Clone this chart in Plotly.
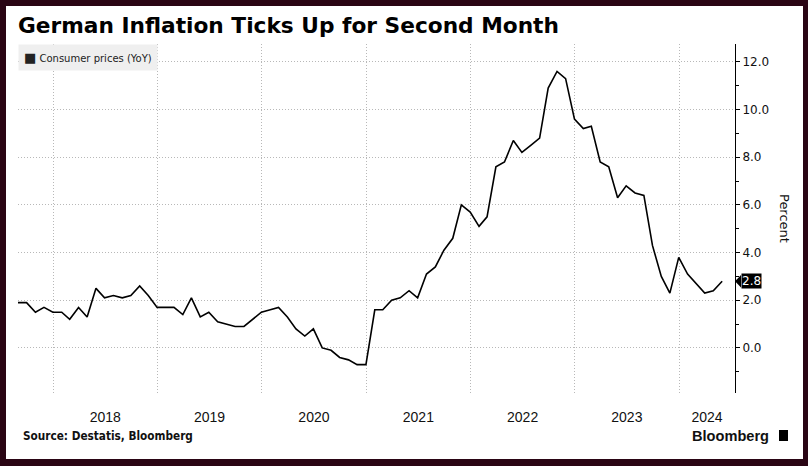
import pandas as pd
import plotly.graph_objects as go

# ---- data (Germany consumer prices, YoY %, monthly Aug 2017 - May 2024) ----
start_month = "2017-08-31"
values = [
    1.9, 1.9, 1.5, 1.7, 1.5,                                   # 2017 Aug-Dec
    1.5, 1.2, 1.7, 1.3, 2.5, 2.1, 2.2, 2.1, 2.2, 2.6, 2.2, 1.7,  # 2018
    1.7, 1.7, 1.4, 2.1, 1.3, 1.5, 1.1, 1.0, 0.9, 0.9, 1.2, 1.5,  # 2019
    1.6, 1.7, 1.3, 0.8, 0.5, 0.8, 0.0, -0.1, -0.4, -0.5, -0.7, -0.7,  # 2020
    1.6, 1.6, 2.0, 2.1, 2.4, 2.1, 3.1, 3.4, 4.1, 4.6, 6.0, 5.7,  # 2021
    5.1, 5.5, 7.6, 7.8, 8.7, 8.2, 8.5, 8.8, 10.9, 11.6, 11.3, 9.6,  # 2022
    9.2, 9.3, 7.8, 7.6, 6.3, 6.8, 6.5, 6.4, 4.3, 3.0, 2.3, 3.8,  # 2023
    3.1, 2.7, 2.3, 2.4, 2.8,                                   # 2024 Jan-May
]
years = [2018, 2019, 2020, 2021, 2022, 2023, 2024]
y_ticks = [0, 2, 4, 6, 8, 10, 12]
series_name = "Consumer prices (YoY)"
title_text = "German Inflation Ticks Up for Second Month"
source_text = "Source: Destatis, Bloomberg"
axis_title = "Percent"

try:
    dates = pd.date_range(start_month, periods=len(values), freq="ME")
except Exception:
    dates = pd.date_range(start_month, periods=len(values), freq="M")
x_dates = [d.strftime("%Y-%m-%d") for d in dates]

x_start = pd.Timestamp(start_month)
x_end = pd.Timestamp("2024-07-15")
y_range = [-1.89, 12.75]

year_starts = [pd.Timestamp(f"{y}-01-01") for y in years]
label_pos = []
for y in years:
    a = pd.Timestamp(f"{y}-01-01")
    b = min(pd.Timestamp(f"{y + 1}-01-01"), x_end)
    label_pos.append((a + (b - a) / 2).strftime("%Y-%m-%d %H:%M"))

BORDER = "#2a0514"
GRID = "#b8b8b8"
DOTS = "1px,2px"

fig = go.Figure()
fig.add_trace(go.Scatter(
    x=x_dates, y=values, mode="lines", name=series_name,
    line=dict(color="#000000", width=1.6), showlegend=False,
))

W, H = 808, 466
ml, mr, mt, mb = 18, 73, 44, 73
pw, ph = W - ml - mr, H - mt - mb


def px_x(px):
    return (px - ml) / pw


def px_y(py):
    return (H - mb - py) / ph


shapes = [
    # white panel inside the dark frame
    dict(type="rect", xref="paper", yref="paper",
         x0=px_x(6), x1=px_x(803), y0=px_y(459), y1=px_y(6),
         fillcolor="white", line=dict(width=0), layer="below"),
    # notch of the last-value tag
    dict(type="path", xref="paper", yref="y",
         path=f"M 1 {values[-1]} L {1 + 6 / pw} {values[-1] + 0.26} "
              f"L {1 + 6 / pw} {values[-1] - 0.26} Z",
         fillcolor="black", line=dict(width=0)),
    # Bloomberg glyph
    dict(type="rect", xref="paper", yref="paper",
         x0=px_x(779), x1=px_x(788), y0=px_y(441), y1=px_y(430),
         fillcolor="black", line=dict(width=0)),
]

annotations = [
    dict(text="<span style='font-size:13px'>■</span> " + series_name,
         xref="paper", yref="paper", x=0, y=1, xanchor="left", yanchor="top",
         showarrow=False, bgcolor="#efefef", borderpad=5,
         font=dict(family="DejaVu Sans", size=10, color="#222222"), align="left"),
    dict(text=axis_title, xref="paper", yref="paper", x=px_x(785), y=px_y(218),
         textangle=90, showarrow=False, xanchor="center", yanchor="middle",
         font=dict(family="DejaVu Sans", size=13, color="#111111")),
    dict(text=f"{values[-1]:.1f}", xref="paper", yref="y", x=1 + 6 / pw, y=values[-1],
         xanchor="left", yanchor="middle", showarrow=False, bgcolor="black",
         borderpad=0, font=dict(family="DejaVu Sans", size=12, color="white")),
    dict(text=f"<b>{source_text}</b>", xref="paper", yref="paper",
         x=px_x(21), y=px_y(436), xanchor="left", yanchor="middle", showarrow=False,
         font=dict(family="DejaVu Sans Condensed, DejaVu Sans", size=11.7, color="#111111")),
    dict(text="<b>Bloomberg</b>", xref="paper", yref="paper",
         x=px_x(771), y=px_y(436), xanchor="right", yanchor="middle", showarrow=False,
         font=dict(family="Liberation Sans, Arial", size=14.6, color="#111111")),
]

fig.update_layout(
    width=W, height=H,
    margin=dict(l=ml, r=mr, t=mt, b=mb, pad=0),
    paper_bgcolor=BORDER, plot_bgcolor="white",
    title=dict(text=f"<b>{title_text}</b>", x=px_x(18), xref="paper",
               xanchor="left", y=1 - 25.5 / H, yref="container", yanchor="middle",
               font=dict(family="DejaVu Sans", size=21.7, color="#000000")),
    xaxis=dict(
        type="date", range=[x_start.strftime("%Y-%m-%d"), x_end.strftime("%Y-%m-%d")],
        tickmode="array", tickvals=label_pos, ticktext=[str(y) for y in years],
        showgrid=False, ticks="", showline=False, zeroline=False,
        tickfont=dict(family="Liberation Sans, Arial", size=14, color="#111111"),
        ticklabelstandoff=14,
        minor=dict(tickmode="array", tickvals=[d.strftime("%Y-%m-%d") for d in year_starts],
                   showgrid=True, gridcolor=GRID, griddash=DOTS, gridwidth=1, ticks=""),
    ),
    yaxis=dict(
        side="right", range=y_range, tickmode="array", tickvals=y_ticks,
        tickformat=".1f", ticks="outside", ticklen=4, tickcolor="black", tickwidth=1,
        showline=True, linecolor="black", linewidth=1, zeroline=False,
        showgrid=True, gridcolor=GRID, griddash=DOTS, gridwidth=1,
        tickfont=dict(family="DejaVu Sans", size=12, color="#111111"),
        minor=dict(dtick=1, tick0=0, ticks="outside", ticklen=3, tickcolor="black",
                   showgrid=False),
    ),
    shapes=shapes,
    annotations=annotations,
    showlegend=False,
)

fig.write_html(
    "out.html",
    config={"displayModeBar": False},
    post_script="document.body.style.margin='0';document.body.style.overflow='hidden';",
)
